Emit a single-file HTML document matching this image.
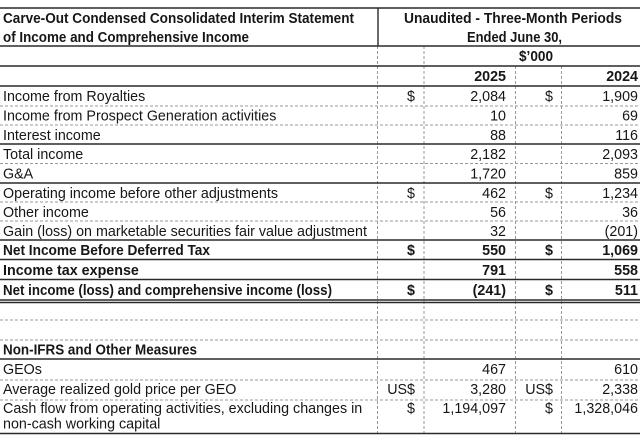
<!DOCTYPE html>
<html>
<head>
<meta charset="utf-8">
<style>
  html,body{margin:0;padding:0;background:#fff;}
  svg{display:block;}
  text{font-family:"Liberation Sans",Arial,sans-serif;font-size:14.3px;fill:#161616;}
  .b{font-weight:bold;}
  .r{text-anchor:end;}
  .c{text-anchor:middle;}
</style>
</head>
<body>
<svg width="640" height="440" viewBox="0 0 640 440" xmlns="http://www.w3.org/2000/svg">
  <rect width="640" height="440" fill="#fff"/>

  <!-- dashed horizontal lines -->
  <g stroke="#9a9a9a" stroke-width="1" stroke-dasharray="3,2" fill="none">
    <line x1="0" y1="106" x2="640" y2="106"/>
    <line x1="0" y1="125" x2="640" y2="125"/>
    <line x1="0" y1="163.5" x2="640" y2="163.5"/>
    <line x1="0" y1="202" x2="640" y2="202"/>
    <line x1="0" y1="221" x2="640" y2="221"/>
    <line x1="0" y1="320" x2="640" y2="320"/>
    <line x1="0" y1="340" x2="640" y2="340"/>
    <line x1="0" y1="380" x2="640" y2="380"/>
    <line x1="0" y1="400" x2="640" y2="400"/>
    <!-- vertical dashed -->
    <line x1="377.5" y1="46" x2="377.5" y2="433"/>
    <line x1="424" y1="46" x2="424" y2="433"/>
    <line x1="515.5" y1="66" x2="515.5" y2="433"/>
    <line x1="561.5" y1="66" x2="561.5" y2="433"/>
  </g>

  <!-- solid lines -->
  <g stroke="#2a2a2a" stroke-width="1.4" fill="none">
    <line x1="0" y1="8" x2="640" y2="8"/>
    <line x1="0" y1="46" x2="640" y2="46"/>
    <line x1="0" y1="66" x2="640" y2="66"/>
    <line x1="0" y1="86" x2="640" y2="86"/>
    <line x1="0" y1="144" x2="640" y2="144"/>
    <line x1="0" y1="183" x2="640" y2="183"/>
    <line x1="0" y1="240" x2="640" y2="240"/>
    <line x1="0" y1="259.5" x2="640" y2="259.5"/>
    <line x1="0" y1="279.5" x2="640" y2="279.5"/>
    <line x1="0" y1="300" x2="640" y2="300"/>
    <line x1="0" y1="302.5" x2="640" y2="302.5"/>
    <line x1="0" y1="359" x2="640" y2="359"/>
    <line x1="0" y1="433.5" x2="640" y2="433.5"/>
    <line x1="378" y1="8" x2="378" y2="46"/>
  </g>

  <!-- header -->
  <text class="b" x="3" y="23" textLength="351" lengthAdjust="spacingAndGlyphs">Carve-Out Condensed Consolidated Interim Statement</text>
  <text class="b" x="3" y="42" textLength="246" lengthAdjust="spacingAndGlyphs">of Income and Comprehensive Income</text>
  <text class="b" x="404" y="23" textLength="218" lengthAdjust="spacingAndGlyphs">Unaudited - Three-Month Periods</text>
  <text class="b" x="467" y="42" textLength="95" lengthAdjust="spacingAndGlyphs">Ended June 30,</text>
  <text class="b" x="519" y="61" textLength="34" lengthAdjust="spacingAndGlyphs">$’000</text>
  <text class="b r" x="506" y="81">2025</text>
  <text class="b r" x="638" y="81">2024</text>

  <!-- rows -->
  <text x="3" y="101">Income from Royalties</text>
  <text class="r" x="415" y="101">$</text>
  <text class="r" x="506" y="101">2,084</text>
  <text class="r" x="553" y="101">$</text>
  <text class="r" x="638" y="101">1,909</text>

  <text x="3" y="120.5">Income from Prospect Generation activities</text>
  <text class="r" x="506" y="120.5">10</text>
  <text class="r" x="638" y="120.5">69</text>

  <text x="3" y="140">Interest income</text>
  <text class="r" x="506" y="140">88</text>
  <text class="r" x="638" y="140">116</text>

  <text x="3" y="159">Total income</text>
  <text class="r" x="506" y="159">2,182</text>
  <text class="r" x="638" y="159">2,093</text>

  <text x="3" y="178.5">G&amp;A</text>
  <text class="r" x="506" y="178.5">1,720</text>
  <text class="r" x="638" y="178.5">859</text>

  <text x="3" y="198">Operating income before other adjustments</text>
  <text class="r" x="415" y="198">$</text>
  <text class="r" x="506" y="198">462</text>
  <text class="r" x="553" y="198">$</text>
  <text class="r" x="638" y="198">1,234</text>

  <text x="3" y="217">Other income</text>
  <text class="r" x="506" y="217">56</text>
  <text class="r" x="638" y="217">36</text>

  <text x="3" y="236">Gain (loss) on marketable securities fair value adjustment</text>
  <text class="r" x="506" y="236">32</text>
  <text class="r" x="638" y="236">(201)</text>

  <text class="b" x="3" y="255" textLength="207" lengthAdjust="spacingAndGlyphs">Net Income Before Deferred Tax</text>
  <text class="b r" x="415" y="255">$</text>
  <text class="b r" x="506" y="255">550</text>
  <text class="b r" x="553" y="255">$</text>
  <text class="b r" x="638" y="255">1,069</text>

  <text class="b" x="3" y="275">Income tax expense</text>
  <text class="b r" x="506" y="275">791</text>
  <text class="b r" x="638" y="275">558</text>

  <text class="b" x="3" y="295" textLength="329" lengthAdjust="spacingAndGlyphs">Net income (loss) and comprehensive income (loss)</text>
  <text class="b r" x="415" y="295">$</text>
  <text class="b r" x="506" y="295">(241)</text>
  <text class="b r" x="553" y="295">$</text>
  <text class="b r" x="638" y="295">511</text>

  <text class="b" x="3" y="354.5" textLength="194" lengthAdjust="spacingAndGlyphs">Non-IFRS and Other Measures</text>

  <text x="3" y="374">GEOs</text>
  <text class="r" x="506" y="374">467</text>
  <text class="r" x="638" y="374">610</text>

  <text x="3" y="394">Average realized gold price per GEO</text>
  <text class="r" x="415" y="394">US$</text>
  <text class="r" x="506" y="394">3,280</text>
  <text class="r" x="553" y="394">US$</text>
  <text class="r" x="638" y="394">2,338</text>

  <text x="3" y="413">Cash flow from operating activities, excluding changes in</text>
  <text x="3" y="428.5">non-cash working capital</text>
  <text class="r" x="415" y="413">$</text>
  <text class="r" x="506" y="413">1,194,097</text>
  <text class="r" x="553" y="413">$</text>
  <text class="r" x="638" y="413">1,328,046</text>
</svg>
</body>
</html>
